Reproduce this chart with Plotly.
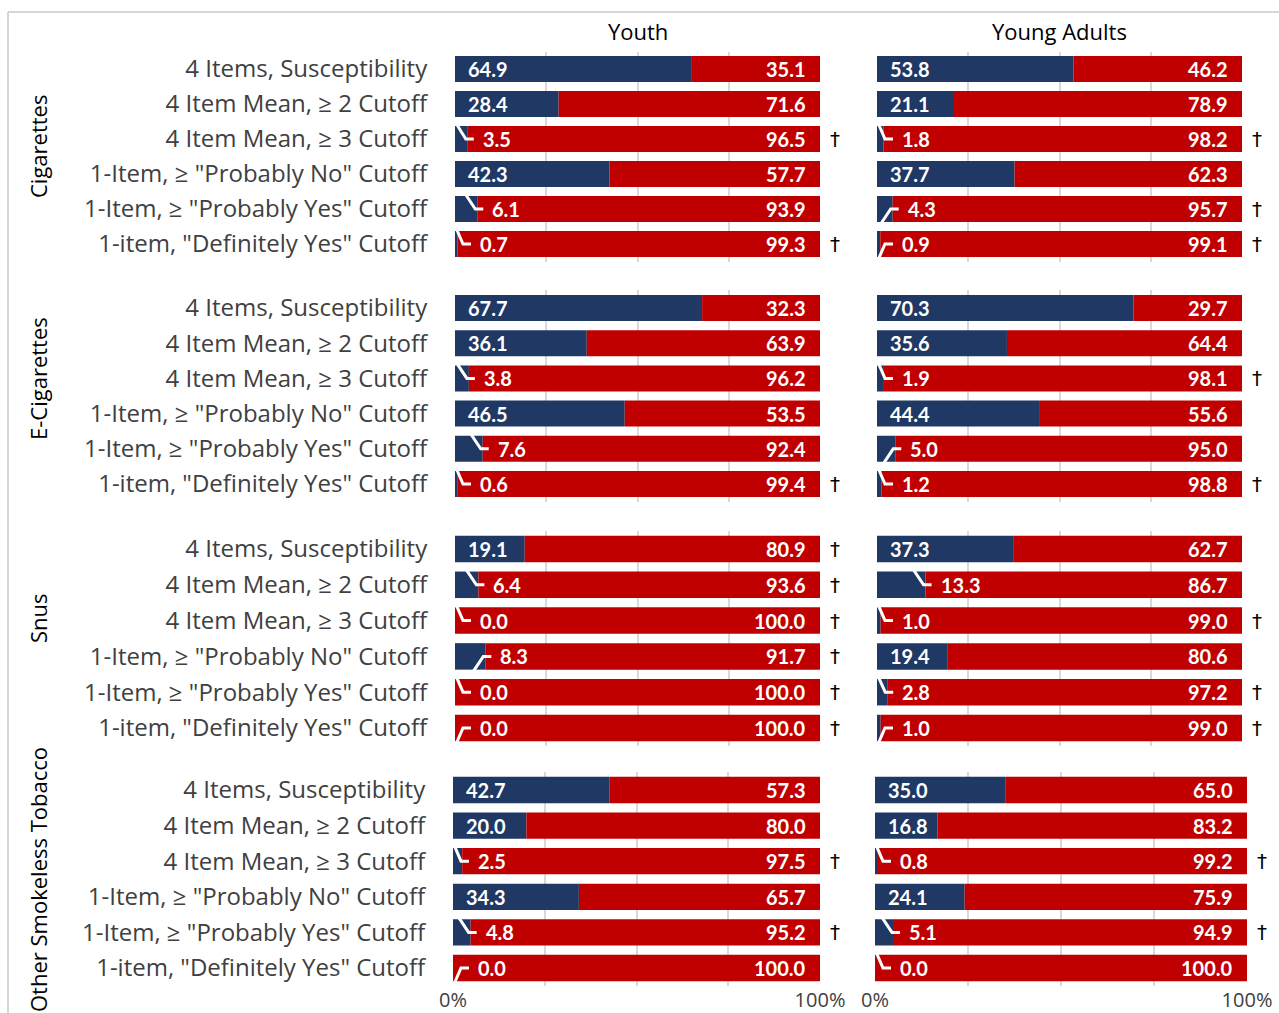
import plotly.graph_objects as go

# ---------------- data ----------------
categories = [
    "4 Items, Susceptibility",
    "4 Item Mean, ≥ 2 Cutoff",
    "4 Item Mean, ≥ 3 Cutoff",
    '1-Item, ≥ "Probably No" Cutoff',
    '1-Item, ≥ "Probably Yes" Cutoff',
    '1-item, "Definitely Yes" Cutoff',
]
products = ["Cigarettes", "E-Cigarettes", "Snus", "Other Smokeless Tobacco"]
age_groups = ["Youth", "Young Adults"]

cig_youth_blue = [64.9, 28.4, 3.5, 42.3, 6.1, 0.7]
cig_youth_red = [35.1, 71.6, 96.5, 57.7, 93.9, 99.3]
cig_ya_blue = [53.8, 21.1, 1.8, 37.7, 4.3, 0.9]
cig_ya_red = [46.2, 78.9, 98.2, 62.3, 95.7, 99.1]

ecig_youth_blue = [67.7, 36.1, 3.8, 46.5, 7.6, 0.6]
ecig_youth_red = [32.3, 63.9, 96.2, 53.5, 92.4, 99.4]
ecig_ya_blue = [70.3, 35.6, 1.9, 44.4, 5.0, 1.2]
ecig_ya_red = [29.7, 64.4, 98.1, 55.6, 95.0, 98.8]

snus_youth_blue = [19.1, 6.4, 0.0, 8.3, 0.0, 0.0]
snus_youth_red = [80.9, 93.6, 100.0, 91.7, 100.0, 100.0]
snus_ya_blue = [37.3, 13.3, 1.0, 19.4, 2.8, 1.0]
snus_ya_red = [62.7, 86.7, 99.0, 80.6, 97.2, 99.0]

other_youth_blue = [42.7, 20.0, 2.5, 34.3, 4.8, 0.0]
other_youth_red = [57.3, 80.0, 97.5, 65.7, 95.2, 100.0]
other_ya_blue = [35.0, 16.8, 0.8, 24.1, 5.1, 0.0]
other_ya_red = [65.0, 83.2, 99.2, 75.9, 94.9, 100.0]

# dagger markers (1 = shown)
cig_youth_dagger = [0, 0, 1, 0, 0, 1]
cig_ya_dagger = [0, 0, 1, 0, 1, 1]
ecig_youth_dagger = [0, 0, 0, 0, 0, 1]
ecig_ya_dagger = [0, 0, 1, 0, 0, 1]
snus_youth_dagger = [1, 1, 1, 1, 1, 1]
snus_ya_dagger = [0, 0, 1, 0, 1, 1]
other_youth_dagger = [0, 0, 1, 0, 1, 0]
other_ya_dagger = [0, 0, 1, 0, 1, 0]

# ---------------- style ----------------
leader_dir = {  # +1 leader goes up, -1 goes down (style only)
    (0, 0): [1, 1, 1, 1, 1, 1], (0, 1): [1, 1, 1, 1, -1, -1],
    (1, 0): [1, 1, 1, 1, 1, 1], (1, 1): [1, 1, 1, 1, -1, 1],
    (2, 0): [1, 1, 1, -1, 1, -1], (2, 1): [1, 1, 1, 1, 1, -1],
    (3, 0): [1, 1, 1, 1, 1, -1], (3, 1): [1, 1, 1, 1, 1, 1],
}

panels = [
    [(cig_youth_blue, cig_youth_red, cig_youth_dagger), (cig_ya_blue, cig_ya_red, cig_ya_dagger)],
    [(ecig_youth_blue, ecig_youth_red, ecig_youth_dagger), (ecig_ya_blue, ecig_ya_red, ecig_ya_dagger)],
    [(snus_youth_blue, snus_youth_red, snus_youth_dagger), (snus_ya_blue, snus_ya_red, snus_ya_dagger)],
    [(other_youth_blue, other_youth_red, other_youth_dagger), (other_ya_blue, other_ya_red, other_ya_dagger)],
]

W, H = 1279, 1013
BLUE = "#1f3864"
RED = "#c00000"
GRAY_TXT = "#404040"
FONT = "Open Sans"
LABEL_FONT = "Lato"

x_dom_px = [
    [(455, 820), (877, 1242)],
    [(455, 820), (877, 1242)],
    [(455, 820), (877, 1242)],
    [(453, 820), (875, 1247)],
]
y_dom_px = [(51.5, 261.5), (290.4, 501.6), (531.1, 745.9), (772.2, 985.8)]
product_label_cy = [147, 379, 618, 880]

fig = go.Figure()
layout = {}
annotations = []
shapes = []

for r in range(4):
    for c in range(2):
        k = r * 2 + c + 1
        xa = "x" if k == 1 else f"x{k}"
        ya = "y" if k == 1 else f"y{k}"
        blue, red, dag = panels[r][c]
        x0p, x1p = x_dom_px[r][c]
        y0p, y1p = y_dom_px[r]
        px_per_x = (x1p - x0p) / 100.0
        px_per_y = (y1p - y0p) / 6.0
        rows = list(range(6))

        fig.add_trace(go.Bar(y=rows, x=blue, orientation="h", marker_color=BLUE,
                             marker_line_width=0, width=0.74, xaxis=xa, yaxis=ya,
                             showlegend=False, hoverinfo="x"))
        fig.add_trace(go.Bar(y=rows, x=red, base=blue, orientation="h", marker_color=RED,
                             marker_line_width=0, width=0.74, xaxis=xa, yaxis=ya,
                             showlegend=False, hoverinfo="x"))

        lx, ly = [], []
        lab_font = dict(family=LABEL_FONT, size=20, color="white", weight="bold")
        for i in rows:
            v = blue[i]
            vpx = v * px_per_x
            if v >= 15:
                annotations.append(dict(x=0, y=i, xref=xa, yref=ya, text=f"{v:.1f}",
                                        showarrow=False, xanchor="left", xshift=11,
                                        font=lab_font))
            else:
                lab = max(vpx + 15, 25)
                annotations.append(dict(x=lab / px_per_x, y=i, xref=xa, yref=ya, text=f"{v:.1f}",
                                        showarrow=False, xanchor="left", xshift=-2,
                                        font=lab_font))
                end = lab - 9
                bend = end - 8
                tip = max(bend - 10, 1.5)
                d = leader_dir[(r, c)][i]
                lx += [end / px_per_x, bend / px_per_x, tip / px_per_x, None]
                ly += [i, i, i - d * 15 / px_per_y, None]
            annotations.append(dict(x=100, y=i, xref=xa, yref=ya, text=f"{red[i]:.1f}",
                                    showarrow=False, xanchor="right", xshift=-12,
                                    font=lab_font))
            if dag[i]:
                annotations.append(dict(x=100, y=i, xref=xa, yref=ya, text="†",
                                        showarrow=False, xanchor="left", xshift=8,
                                        font=dict(family="DejaVu Sans", size=20, color="black")))
        if lx:
            fig.add_trace(go.Scatter(x=lx, y=ly, mode="lines", xaxis=xa, yaxis=ya,
                                     line=dict(color="white", width=3),
                                     hoverinfo="skip", showlegend=False, cliponaxis=False))

        bottom = (r == 3)
        layout["xaxis" if k == 1 else f"xaxis{k}"] = dict(
            domain=[x0p / W, x1p / W], anchor=ya, range=[0, 100],
            tickvals=[0, 25, 50, 75, 100],
            ticktext=["0%", "", "", "", "100%"],
            showticklabels=bottom, showgrid=True, gridcolor="#d9d9d9", gridwidth=2,
            zeroline=False, showline=False, ticks="", automargin=False,
            tickfont=dict(family=FONT, size=20, color=GRAY_TXT), fixedrange=True,
        )
        layout["yaxis" if k == 1 else f"yaxis{k}"] = dict(
            domain=[1 - y1p / H, 1 - y0p / H], anchor=xa, range=[5.5, -0.5],
            tickvals=rows, ticktext=categories, showticklabels=(c == 0),
            ticks="outside" if c == 0 else "", ticklen=22, tickcolor="rgba(0,0,0,0)",
            showgrid=False, zeroline=False, showline=False, automargin=False,
            tickfont=dict(family=FONT, size=24, color=GRAY_TXT), fixedrange=True,
        )

# column titles
for c, name in enumerate(age_groups):
    x0p, x1p = x_dom_px[0][c]
    annotations.append(dict(x=((x0p + x1p) / 2) / W, y=1 - 31 / H, xref="paper", yref="paper",
                            text=name, showarrow=False, xanchor="center", yanchor="middle",
                            font=dict(family=FONT, size=22, color="black")))

# product labels
for r, name in enumerate(products):
    cy = product_label_cy[r]
    annotations.append(dict(x=38 / W, y=1 - cy / H, xref="paper", yref="paper", text=name,
                            showarrow=False, textangle=-90, xanchor="center", yanchor="middle",
                            font=dict(family=FONT, size=22, color="black")))

# outer border
shapes.append(dict(type="line", xref="paper", yref="paper", x0=8 / W, x1=1, y0=1 - 12 / H, y1=1 - 12 / H,
                   line=dict(color="#c8c8c8", width=1.5)))
shapes.append(dict(type="line", xref="paper", yref="paper", x0=8 / W, x1=8 / W, y0=0, y1=1 - 12 / H,
                   line=dict(color="#c8c8c8", width=1.5)))

fig.update_layout(
    width=W, height=H, margin=dict(l=0, r=0, t=0, b=0, autoexpand=False),
    plot_bgcolor="white", paper_bgcolor="white", barmode="overlay",
    annotations=annotations, shapes=shapes, **layout,
)

fig.write_html("out.html", config={"displayModeBar": False})
